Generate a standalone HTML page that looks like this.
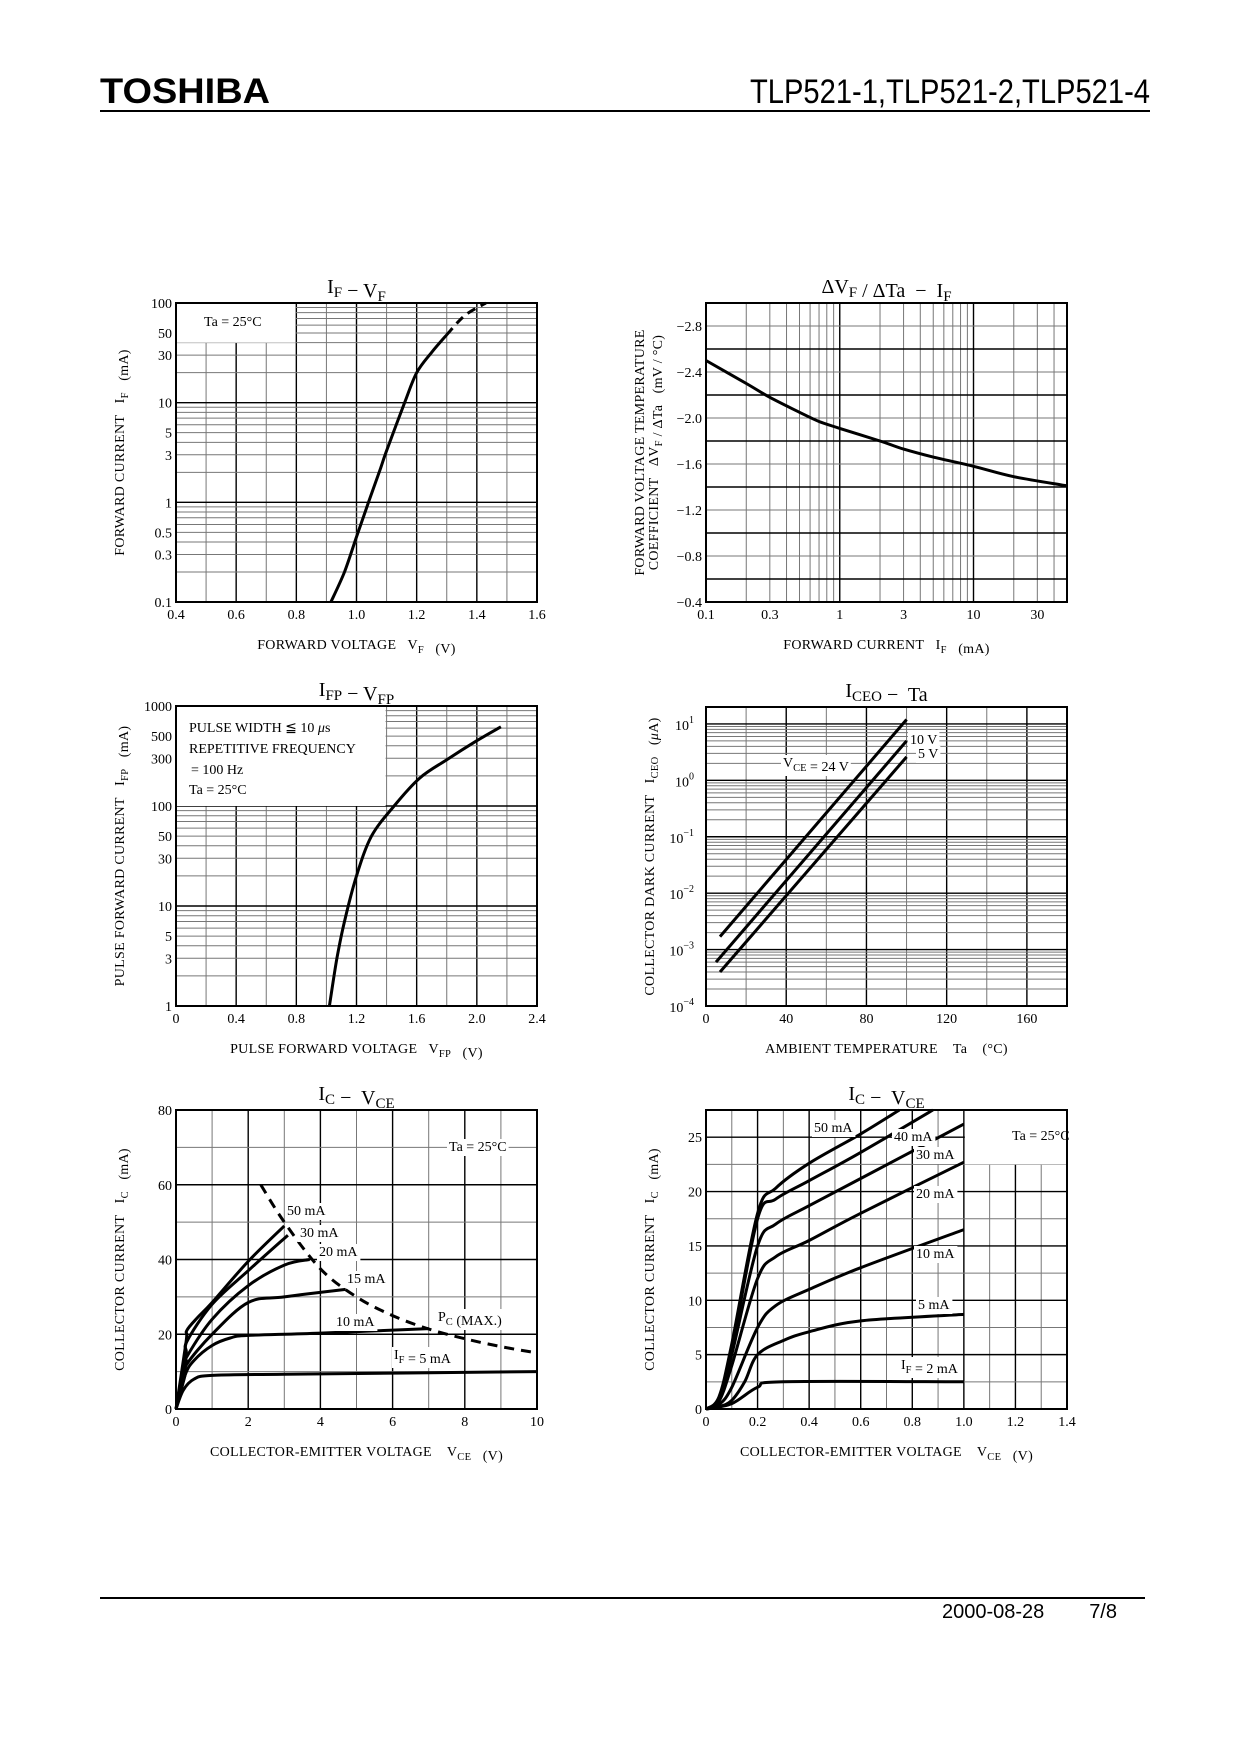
<!DOCTYPE html>
<html><head><meta charset="utf-8"><style>
html,body{margin:0;padding:0;background:#fff;}
svg{display:block;font-family:"Liberation Serif",serif;}
.tk{font-size:14px;fill:#000;}
.ax{font-size:14px;fill:#000;letter-spacing:0.3px;}
.tt{font-size:20px;fill:#000;}
.lb{font-size:14px;fill:#000;}
</style></head><body>
<svg id="page" width="1240" height="1754" viewBox="0 0 1240 1754" xmlns="http://www.w3.org/2000/svg">
<text x="100" y="103" font-family="Liberation Sans, sans-serif" font-weight="bold" font-size="35" textLength="170" lengthAdjust="spacingAndGlyphs">TOSHIBA</text>
<text x="1150" y="103" text-anchor="end" font-family="Liberation Sans, sans-serif" font-size="34" textLength="400" lengthAdjust="spacingAndGlyphs">TLP521-1,TLP521-2,TLP521-4</text>
<rect x="100" y="110" width="1050" height="2" fill="#000"/>
<rect x="100" y="1597" width="1045" height="2" fill="#000"/>
<text x="942" y="1618" font-family="Liberation Sans, sans-serif" font-size="20">2000-08-28</text>
<text x="1117" y="1618" text-anchor="end" font-family="Liberation Sans, sans-serif" font-size="20">7/8</text>
<g id="charts"></g>
</svg>
<script>
// ---------- Chart 1: IF - VF ----------
var c1Voltage = [0.915,0.96,1.0,1.04,1.08,1.1,1.16,1.2,1.25,1.3];
var c1Current = [0.1,0.2,0.45,1,2.2,3.3,10,20,32,48];
var c1DashVoltage = [1.3,1.36,1.43];
var c1DashCurrent = [48,75,100];
var c1XTicks = [0.4,0.6,0.8,1.0,1.2,1.4,1.6];
var c1XTickLabels = ["0.4","0.6","0.8","1.0","1.2","1.4","1.6"];
var c1YTicks = [0.1,0.3,0.5,1,3,5,10,30,50,100];
var c1YTickLabels = ["0.1","0.3","0.5","1","3","5","10","30","50","100"];
// ---------- Chart 2: dVF/dTa - IF ----------
var c2Current = [0.1,0.2,0.3,0.5,0.7,1,2,3,5,10,20,50];
var c2Coef = [-2.50,-2.30,-2.18,-2.05,-1.97,-1.91,-1.80,-1.73,-1.66,-1.58,-1.49,-1.41];
var c2XTicks = [0.1,0.3,1,3,10,30];
var c2XTickLabels = ["0.1","0.3","1","3","10","30"];
var c2YTicks = [-2.8,-2.4,-2.0,-1.6,-1.2,-0.8,-0.4];
var c2YTickLabels = ["\u22122.8","\u22122.4","\u22122.0","\u22121.6","\u22121.2","\u22120.8","\u22120.4"];
// ---------- Chart 3: IFP - VFP ----------
var c3Voltage = [1.02,1.07,1.12,1.2,1.3,1.45,1.62,1.8,2.0,2.16];
var c3Current = [1,3,7,20,50,100,190,290,450,620];
var c3XTicks = [0,0.4,0.8,1.2,1.6,2.0,2.4];
var c3XTickLabels = ["0","0.4","0.8","1.2","1.6","2.0","2.4"];
var c3YTicks = [1,3,5,10,30,50,100,300,500,1000];
var c3YTickLabels = ["1","3","5","10","30","50","100","300","500","1000"];
// ---------- Chart 4: ICEO - Ta ----------
var c4Temp24 = [7,100];
var c4Iceo24 = [0.0017,12];
var c4Temp10 = [5,100];
var c4Iceo10 = [0.0006,5];
var c4Temp5 = [7,100];
var c4Iceo5 = [0.0004,2.6];
var c4XTicks = [0,40,80,120,160];
var c4XTickLabels = ["0","40","80","120","160"];
var c4YTicks = [-4,-3,-2,-1,0,1];
// ---------- Chart 5: IC - VCE (0-10 V) ----------
var c5V5 = [0,0.2,0.5,1,3,10];
var c5I5 = [0,5,8,9,9.3,10];
var c5V10 = [0,0.25,0.5,1,1.5,2,4,7];
var c5I10 = [0,9,13,17,19,19.7,20.3,21.5];
var c5V15 = [0,0.25,0.3,1,2,3,4.7];
var c5I15 = [0,9,12,20,28.5,30,32];
var c5V20 = [0,0.28,0.3,1,2,3,3.7];
var c5I20 = [0,12,14,24,33,38.5,40];
var c5V30 = [0,0.28,0.3,1,2,3.1];
var c5I30 = [0,14,18,28,37,46.5];
var c5V50 = [0,0.28,0.3,0.6,1,2,3];
var c5I50 = [0,18,21,24.5,28.5,39.5,49];
var c5PcV = [2.35,3,4,5,6,7,8,9,10];
var c5PcI = [60,50,37.5,30,25,21.4,18.8,16.7,15];
var c5XTicks = [0,2,4,6,8,10];
var c5XTickLabels = ["0","2","4","6","8","10"];
var c5YTicks = [0,20,40,60,80];
var c5YTickLabels = ["0","20","40","60","80"];
// ---------- Chart 6: IC - VCE (0-1.4 V) ----------
var c6V2 = [0,0.1,0.2,0.3,1];
var c6I2 = [0,0.5,2,2.5,2.5];
var c6V5 = [0,0.05,0.1,0.15,0.2,0.3,0.4,0.6,1];
var c6I5 = [0,0.2,0.8,2.5,5,6.3,7.1,8.1,8.7];
var c6V10 = [0,0.05,0.1,0.2,0.27,0.4,0.6,1];
var c6I10 = [0,0.4,2,7.5,9.5,11,13,16.5];
var c6V20 = [0,0.05,0.1,0.2,0.27,0.4,0.6,1];
var c6I20 = [0,0.7,4,12,14,15.5,18,22.7];
var c6V30 = [0,0.05,0.1,0.2,0.27,0.4,0.6,1];
var c6I30 = [0,0.9,5,15,17,18.7,21.2,26.2];
var c6V40 = [0,0.05,0.1,0.2,0.27,0.4,0.6,0.88];
var c6I40 = [0,1,5.5,17.5,19.3,21,23.6,27.5];
var c6V50 = [0,0.05,0.1,0.2,0.27,0.4,0.6,0.75];
var c6I50 = [0,1.1,6,18,20.3,22.6,25.3,27.5];
var c6XTicks = [0,0.2,0.4,0.6,0.8,1.0,1.2,1.4];
var c6XTickLabels = ["0","0.2","0.4","0.6","0.8","1.0","1.2","1.4"];
var c6YTicks = [0,5,10,15,20,25];
var c6YTickLabels = ["0","5","10","15","20","25"];

var NS = "http://www.w3.org/2000/svg";
var root = document.getElementById("charts");
function el(tag, attrs, parent) {
  var e = document.createElementNS(NS, tag);
  for (var k in attrs) e.setAttribute(k, attrs[k]);
  (parent || root).appendChild(e);
  return e;
}
function scale(type, d0, d1, r0, r1) {
  if (type === "log") {
    var a = Math.log10(d0), b = Math.log10(d1);
    return function (v) { return r0 + (Math.log10(v) - a) / (b - a) * (r1 - r0); };
  }
  return function (v) { return r0 + (v - d0) / (d1 - d0) * (r1 - r0); };
}
function logMinors(lo, hi) {
  var out = [];
  for (var d = Math.floor(Math.log10(lo)); d <= Math.ceil(Math.log10(hi)); d++)
    for (var m = 1; m < 10; m++) { var v = m * Math.pow(10, d); if (v >= lo * 0.9999 && v <= hi * 1.0001) out.push({v: v, major: m === 1}); }
  return out;
}
function linSteps(lo, hi, st, majEvery) {
  var out = [], n = Math.round((hi - lo) / st);
  for (var i = 0; i <= n; i++) out.push({v: lo + i * st, major: i % majEvery === 0});
  return out;
}
function smoothPath(P) {
  var d = "M" + P[0][0].toFixed(1) + "," + P[0][1].toFixed(1);
  if (P.length < 3) { for (var j = 1; j < P.length; j++) d += " L" + P[j][0].toFixed(1) + "," + P[j][1].toFixed(1); return d; }
  for (var i = 0; i < P.length - 1; i++) {
    var p0 = P[i - 1] || P[i], p1 = P[i], p2 = P[i + 1], p3 = P[i + 2] || p2;
    var c1x = p1[0] + (p2[0] - p0[0]) / 6, c1y = p1[1] + (p2[1] - p0[1]) / 6;
    var c2x = p2[0] - (p3[0] - p1[0]) / 6, c2y = p2[1] - (p3[1] - p1[1]) / 6;
    d += " C" + c1x.toFixed(1) + "," + c1y.toFixed(1) + " " + c2x.toFixed(1) + "," + c2y.toFixed(1) + " " + p2[0].toFixed(1) + "," + p2[1].toFixed(1);
  }
  return d;
}
function chart(c) {
  var g = el("g", {});
  
  
  var sx = scale(c.xType, c.x0, c.x1, c.L, c.R), sy = scale(c.yType, c.y0, c.y1, c.B, c.T);
  var grid = el("g", {}, g);
  
  
  c.xGrid.forEach(function (t) {
    var x = sx(t.v);
    var ln = el("line", {x1: x, x2: x, y1: c.T, y2: c.B, stroke: t.major ? "#000" : "#777", "stroke-width": t.major ? 1.4 : 1}, grid);
    
    
  });
  c.yGrid.forEach(function (t) {
    var y = sy(t.v);
    var ln = el("line", {x1: c.L, x2: c.R, y1: y, y2: y, stroke: t.major ? "#000" : "#777", "stroke-width": t.major ? 1.4 : 1}, grid);
    
    
  });
  (c.boxes || []).forEach(function (b) {
    var r = el("rect", {x: sx(b[0]) + 1, y: sy(b[3]) + 1, width: sx(b[1]) - sx(b[0]) - 2, height: sy(b[2]) - sy(b[3]) - 1, fill: "#fff"}, g);
    
    
  });
  var fr = el("rect", {x: c.L, y: c.T, width: c.R - c.L, height: c.B - c.T, fill: "none", stroke: "#000", "stroke-width": 2}, g);
  
  
  c.series.forEach(function (s) {
    var pts = s.x.map(function (v, i) { return [sx(v), sy(s.y[i])]; });
    var p = el("path", {d: smoothPath(pts), fill: "none", stroke: "#000", "stroke-width": 3, "stroke-linejoin": "round", "stroke-dasharray": s.dash || "none"}, g);
    
    
  });
  c.xTicks.forEach(function (v, i) {
    var t = el("text", {x: sx(v), y: c.B + 17, "text-anchor": "middle", "class": "tk"}, g);
    t.textContent = c.xLabels[i];
    
    
  });
  c.yTicks.forEach(function (v, i) {
    var t = el("text", {x: c.L - 4, y: sy(v) + 5, "text-anchor": "end", "class": "tk"}, g);
    if (c.yExp) {
      t.textContent = "10";
      var sp = el("tspan", {dy: -7, "font-size": "10"}, t);
      sp.textContent = (v < 0 ? "\u2212" + (-v) : "" + v);
      t.setAttribute("x", c.L - 12);
      t.setAttribute("y", sy(c.yVal(v)) + 6);
    } else t.textContent = c.yLabels[i];
    
    
  });
  var tt = el("text", {x: (c.L + c.R) / 2, y: c.T - 10, "text-anchor": "middle", "class": "tt"}, g);
  tt.innerHTML = c.title;
  
  
  var xt = el("text", {x: (c.L + c.R) / 2, y: c.B + 47, "text-anchor": "middle", "class": "ax"}, g);
  xt.innerHTML = c.xTitle;
  
  
  c.yTitles.forEach(function (yt, i) {
    var t = el("text", {transform: "translate(" + (c.yTitleX + i * 14) + "," + (c.T + c.B) / 2 + ") rotate(-90)", "text-anchor": "middle", "class": "ax"}, g);
    t.innerHTML = yt;
    
    
  });
  (c.labels || []).forEach(function (lb) {
    var t = el("text", {x: lb[0], y: lb[1], "class": "lb", "text-anchor": lb[3] || "start"}, g);
    t.innerHTML = lb[2];
    if (lb[4]) {
      var bb = t.getBBox();
      var r = el("rect", {x: bb.x - 2, y: bb.y - 1, width: bb.width + 4, height: bb.height + 2, fill: "#fff"}, g);
      g.insertBefore(r, t);
      
      
    }
    
    
  });
}
var sub = function (s) { return '<tspan dy="4" font-size="0.75em">' + s + '</tspan><tspan dy="-4"></tspan>'; };

chart({name: "chart-if-vf", L: 176, R: 537, T: 303, B: 602, xType: "lin", x0: 0.4, x1: 1.6, yType: "log", y0: 0.1, y1: 100,
  xGrid: linSteps(0.4, 1.6, 0.1, 2), yGrid: logMinors(0.1, 100),
  boxes: [[0.4, 0.8, 40, 100]],
  series: [{name: "if-vf-curve", x: c1Voltage, y: c1Current}, {name: "if-vf-curve-extrapolated", x: c1DashVoltage, y: c1DashCurrent, dash: "9,6"}],
  xTicks: c1XTicks, xLabels: c1XTickLabels, yTicks: c1YTicks, yLabels: c1YTickLabels,
  title: "I" + sub("F") + " \u2212 V" + sub("F"), xTitle: "FORWARD VOLTAGE&#160;&#160; V" + sub("F") + " &#160;&#160;(V)",
  yTitles: ["FORWARD CURRENT&#160;&#160; I" + sub("F") + " &#160;&#160;(mA)"], yTitleX: 124,
  labels: [[204, 326, "Ta = 25\u00b0C"]]});

chart({name: "chart-dvf-dta-if", L: 706, R: 1067, T: 303, B: 602, xType: "log", x0: 0.1, x1: 50, yType: "lin", y0: -0.4, y1: -3.0,
  xGrid: logMinors(0.1, 50), yGrid: linSteps(-3.0, -0.4, 0.2, 2),
  series: [{name: "coefficient-curve", x: c2Current, y: c2Coef}],
  xTicks: c2XTicks, xLabels: c2XTickLabels, yTicks: c2YTicks, yLabels: c2YTickLabels,
  title: "\u0394V" + sub("F") + " / \u0394Ta&#160; \u2212&#160; I" + sub("F"), xTitle: "FORWARD CURRENT&#160;&#160; I" + sub("F") + " &#160;&#160;(mA)",
  yTitles: ["FORWARD VOLTAGE TEMPERATURE", "COEFFICIENT&#160;&#160; \u0394V" + sub("F") + " / \u0394Ta&#160;&#160; (mV / \u00b0C)"], yTitleX: 644});

chart({name: "chart-ifp-vfp", L: 176, R: 537, T: 706, B: 1006, xType: "lin", x0: 0, x1: 2.4, yType: "log", y0: 1, y1: 1000,
  xGrid: linSteps(0, 2.4, 0.2, 2), yGrid: logMinors(1, 1000),
  boxes: [[0, 1.4, 100, 1000]],
  series: [{name: "ifp-vfp-curve", x: c3Voltage, y: c3Current}],
  xTicks: c3XTicks, xLabels: c3XTickLabels, yTicks: c3YTicks, yLabels: c3YTickLabels,
  title: "I" + sub("FP") + " \u2212 V" + sub("FP"), xTitle: "PULSE FORWARD VOLTAGE&#160;&#160; V" + sub("FP") + " &#160;&#160;(V)",
  yTitles: ["PULSE FORWARD CURRENT&#160;&#160; I" + sub("FP") + " &#160;&#160;(mA)"], yTitleX: 124,
  labels: [[189, 732, "PULSE WIDTH \u2266 10 <tspan font-style='italic'>\u03bc</tspan>s"], [189, 753, "REPETITIVE FREQUENCY"], [191, 774, "= 100 Hz"], [189, 794, "Ta = 25\u00b0C"]]});

chart({name: "chart-iceo-ta", L: 706, R: 1067, T: 707, B: 1006, xType: "lin", x0: 0, x1: 180, yType: "log", y0: 1e-4, y1: Math.pow(10, 1.3),
  xGrid: linSteps(0, 180, 20, 2), yGrid: logMinors(1e-4, 19),
  series: [{name: "iceo-24v", x: c4Temp24, y: c4Iceo24}, {name: "iceo-10v", x: c4Temp10, y: c4Iceo10}, {name: "iceo-5v", x: c4Temp5, y: c4Iceo5}],
  xTicks: c4XTicks, xLabels: c4XTickLabels, yTicks: c4YTicks, yExp: true, yVal: function (v) { return Math.pow(10, v); },
  title: "I" + sub("CEO") + " \u2212&#160; Ta", xTitle: "AMBIENT TEMPERATURE&#160;&#160;&#160; Ta&#160;&#160;&#160; (\u00b0C)",
  yTitles: ["COLLECTOR DARK CURRENT&#160;&#160; I" + sub("CEO") + " &#160;&#160;(<tspan font-style='italic'>\u03bc</tspan>A)"], yTitleX: 654,
  labels: [[910, 744, "10 V", "start", 1], [918, 758, "5 V", "start", 1], [783, 767, "V" + sub("CE") + " = 24 V", "start", 1]]});

chart({name: "chart-ic-vce-wide", L: 176, R: 537, T: 1110, B: 1409, xType: "lin", x0: 0, x1: 10, yType: "lin", y0: 0, y1: 80,
  xGrid: linSteps(0, 10, 1, 2), yGrid: linSteps(0, 80, 10, 2),
  series: [{name: "ic-if-5ma", x: c5V5, y: c5I5}, {name: "ic-if-10ma", x: c5V10, y: c5I10}, {name: "ic-if-15ma", x: c5V15, y: c5I15},
    {name: "ic-if-20ma", x: c5V20, y: c5I20}, {name: "ic-if-30ma", x: c5V30, y: c5I30}, {name: "ic-if-50ma", x: c5V50, y: c5I50},
    {name: "pc-max-curve", x: c5PcV, y: c5PcI, dash: "10,7"}],
  xTicks: c5XTicks, xLabels: c5XTickLabels, yTicks: c5YTicks, yLabels: c5YTickLabels,
  title: "I" + sub("C") + " \u2212&#160; V" + sub("CE"), xTitle: "COLLECTOR-EMITTER VOLTAGE&#160;&#160;&#160; V" + sub("CE") + " &#160;&#160;(V)",
  yTitles: ["COLLECTOR CURRENT&#160;&#160; I" + sub("C") + " &#160;&#160;(mA)"], yTitleX: 124,
  labels: [[449, 1151, "Ta = 25\u00b0C", "start", 1], [287, 1215, "50 mA", "start", 1], [300, 1237, "30 mA", "start", 1], [319, 1256, "20 mA", "start", 1],
    [347, 1283, "15 mA", "start", 1], [438, 1321, "P" + sub("C") + " (MAX.)", "start", 1], [336, 1326, "10 mA", "start", 1], [394, 1359, "I" + sub("F") + " = 5 mA", "start", 1]]});

chart({name: "chart-ic-vce-low", L: 706, R: 1067, T: 1110, B: 1409, xType: "lin", x0: 0, x1: 1.4, yType: "lin", y0: 0, y1: 27.5,
  xGrid: linSteps(0, 1.4, 0.1, 2), yGrid: linSteps(0, 27.5, 2.5, 2),
  boxes: [[1.0, 1.4, 22.5, 27.5]],
  series: [{name: "ic-if-2ma", x: c6V2, y: c6I2}, {name: "ic-if-5ma", x: c6V5, y: c6I5}, {name: "ic-if-10ma", x: c6V10, y: c6I10},
    {name: "ic-if-20ma", x: c6V20, y: c6I20}, {name: "ic-if-30ma", x: c6V30, y: c6I30}, {name: "ic-if-40ma", x: c6V40, y: c6I40}, {name: "ic-if-50ma", x: c6V50, y: c6I50}],
  xTicks: c6XTicks, xLabels: c6XTickLabels, yTicks: c6YTicks, yLabels: c6YTickLabels,
  title: "I" + sub("C") + " \u2212&#160; V" + sub("CE"), xTitle: "COLLECTOR-EMITTER VOLTAGE&#160;&#160;&#160; V" + sub("CE") + " &#160;&#160;(V)",
  yTitles: ["COLLECTOR CURRENT&#160;&#160; I" + sub("C") + " &#160;&#160;(mA)"], yTitleX: 654,
  labels: [[1012, 1140, "Ta = 25\u00b0C"], [814, 1132, "50 mA", "start", 1], [894, 1141, "40 mA", "start", 1], [916, 1159, "30 mA", "start", 1],
    [916, 1198, "20 mA", "start", 1], [916, 1258, "10 mA", "start", 1], [918, 1309, "5 mA", "start", 1], [901, 1369, "I" + sub("F") + " = 2 mA", "start", 1]]});
</script>
</body></html>
